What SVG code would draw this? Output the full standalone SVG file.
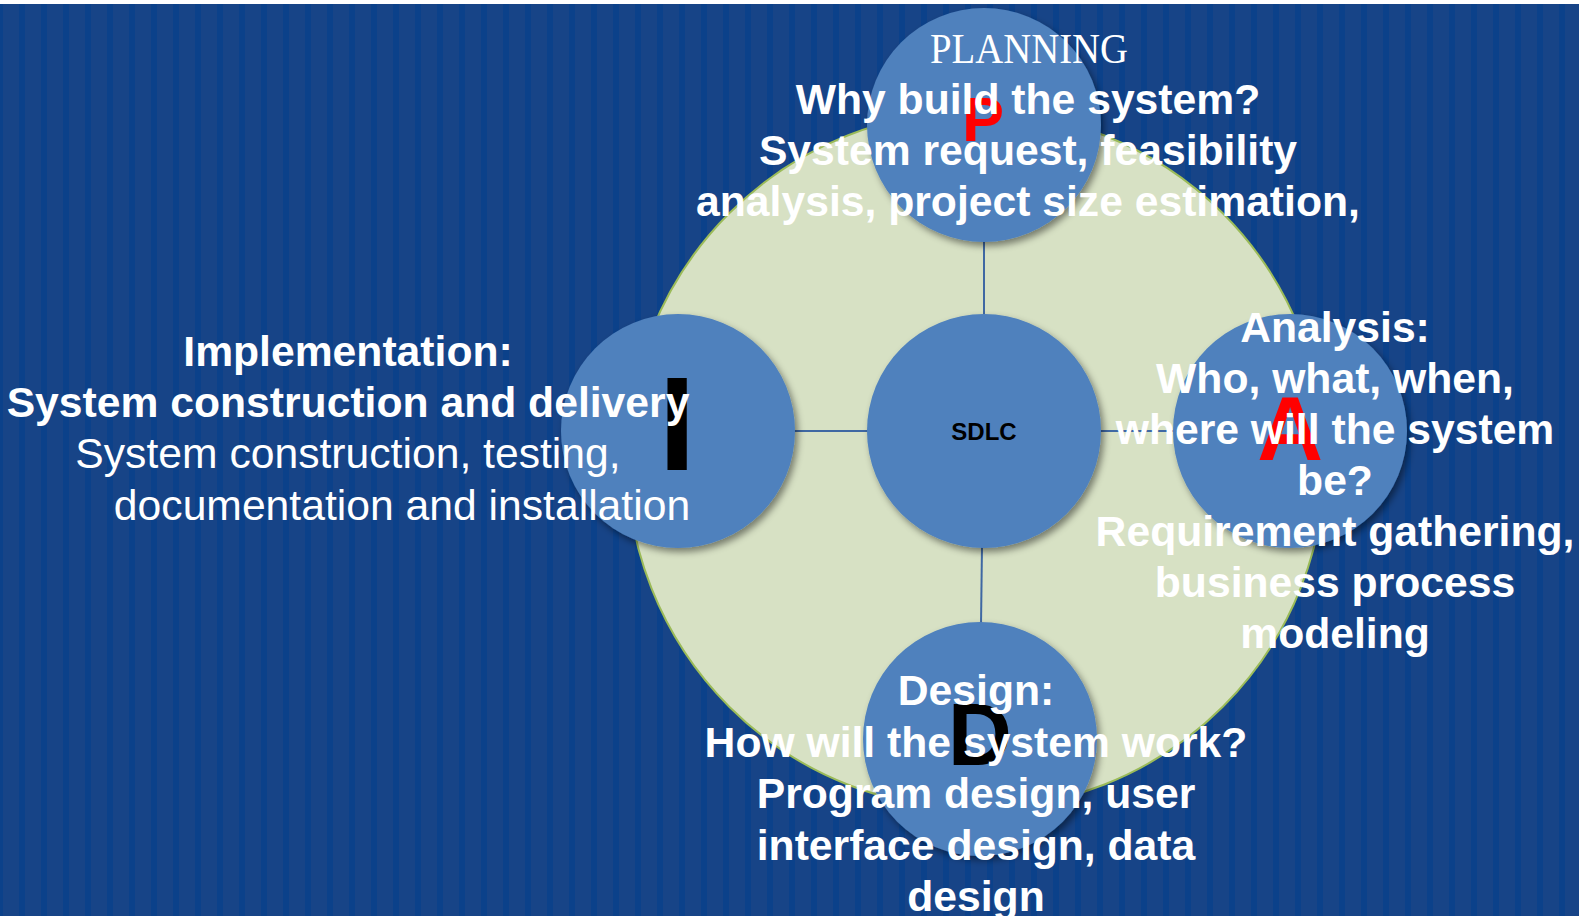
<svg xmlns="http://www.w3.org/2000/svg" width="1579" height="916" viewBox="0 0 1579 916">
  <defs>
    <pattern id="stripes" patternUnits="userSpaceOnUse" x="19" y="0" width="22" height="916">
      <rect x="0" y="0" width="22" height="916" fill="#174487"/>
      <rect x="0" y="0" width="6" height="916" fill="#0b418a"/>
    </pattern>
    <filter id="shadow" x="-20%" y="-20%" width="150%" height="150%">
      <feDropShadow dx="3" dy="4" stdDeviation="3.5" flood-color="#000000" flood-opacity="0.45"/>
    </filter>
    <style>
      .phase { fill: #4f81bd; filter: url(#shadow); }
      .conn { stroke: #3f68a3; stroke-width: 2; fill: none; }
      .t { font-family: "Liberation Sans", Arial, sans-serif; font-size: 42.67px; fill: #ffffff; text-anchor: middle; }
      .b { font-weight: bold; }
      .big { font-family: "Liberation Sans", Arial, sans-serif; font-weight: bold; text-anchor: middle; }
    </style>
  </defs>

  <rect x="0" y="0" width="1579" height="916" fill="#ffffff"/>
  <rect x="0" y="4" width="1579" height="912" fill="url(#stripes)"/>

  <g id="cycle-ring">
    <circle cx="976" cy="460" r="349" fill="#d7e1c4" stroke="#9bbb59" stroke-width="2"/>
  </g>

  <g id="connectors">
    <line class="conn" x1="984" y1="240" x2="984" y2="316"/>
    <line class="conn" x1="793" y1="431" x2="869" y2="431"/>
    <line class="conn" x1="1099" y1="431" x2="1175" y2="431"/>
    <line class="conn" x1="982" y1="546" x2="981" y2="625"/>
  </g>

  <g id="node-sdlc">
    <circle class="phase" cx="984" cy="431" r="117"/>
    <text x="984" y="440" class="big" font-size="24" fill="#000000">SDLC</text>
  </g>

  <g id="node-planning">
    <circle class="phase" cx="984" cy="125" r="117"/>
    <text x="983" y="141" class="big" font-size="63" fill="#ff0000">P</text>
    <text x="1029" y="63" font-family="'Liberation Serif', 'Times New Roman', serif" font-size="42.67" fill="#ffffff" text-anchor="middle" textLength="198" lengthAdjust="spacingAndGlyphs">PLANNING</text>
    <text class="t b" x="1028" y="114">Why build the system?</text>
    <text class="t b" x="1028" y="165">System request, feasibility</text>
    <text class="t b" x="1028" y="216">analysis, project size estimation,</text>
  </g>

  <g id="node-analysis">
    <circle class="phase" cx="1290" cy="431" r="117"/>
    <text x="1290" y="460" class="big" font-size="91" fill="#ff0000">A</text>
    <text class="t b" x="1335" y="342">Analysis:</text>
    <text class="t b" x="1335" y="393">Who, what, when,</text>
    <text class="t b" x="1335" y="444">where will the system</text>
    <text class="t b" x="1335" y="495">be?</text>
    <text class="t b" x="1335" y="546">Requirement gathering,</text>
    <text class="t b" x="1335" y="597">business process</text>
    <text class="t b" x="1335" y="648">modeling</text>
  </g>

  <g id="node-design">
    <circle class="phase" cx="980" cy="739" r="117"/>
    <text x="980" y="765" class="big" font-size="89" fill="#000000">D</text>
    <text class="t b" x="976" y="705">Design:</text>
    <text class="t b" x="976" y="757">How will the system work?</text>
    <text class="t b" x="976" y="808">Program design, user</text>
    <text class="t b" x="976" y="860">interface design, data</text>
    <text class="t b" x="976" y="911">design</text>
  </g>

  <g id="node-implementation">
    <circle class="phase" cx="678" cy="431" r="117"/>
    <text x="677" y="470" class="big" font-size="134" fill="#000000">I</text>
    <text class="t b" x="348" y="366">Implementation:</text>
    <text class="t b" x="348" y="417">System construction and delivery</text>
    <text class="t" x="348" y="468">System construction, testing,</text>
    <text class="t" x="402" y="520">documentation and installation</text>
  </g>
</svg>
